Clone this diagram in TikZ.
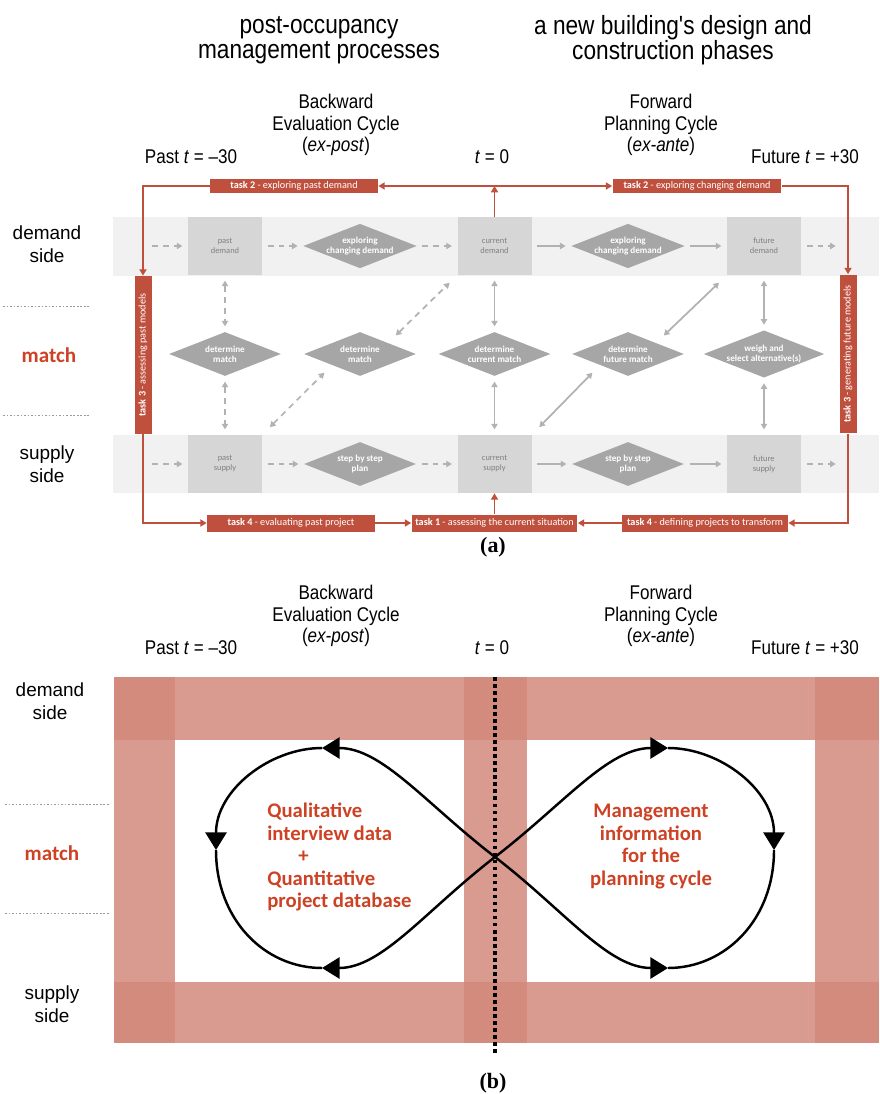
\documentclass[tikz,border=0pt]{standalone}
\usepackage{fontspec}
\setmainfont{Liberation Sans}
\newfontfamily\narrowsans[FakeStretch=0.86]{Liberation Sans}
\newfontfamily\carlito{Carlito}
\newfontfamily\timesfont{Liberation Serif}
\usetikzlibrary{arrows.meta, shapes.geometric}

\definecolor{taskred}{RGB}{192,80,62}
\definecolor{matchred}{RGB}{205,66,36}
\definecolor{laneback}{RGB}{241,241,241}
\definecolor{phasegray}{RGB}{214,214,214}
\definecolor{decgray}{RGB}{166,166,166}
\definecolor{linkgray}{RGB}{178,178,178}
\definecolor{gridred}{RGB}{210,136,122}

\tikzset{
  heading/.style = {font=\narrowsans\fontsize{15pt}{14.2pt}\selectfont, align=center},
  cyclehead/.style = {font=\narrowsans\fontsize{11.3pt}{12.4pt}\selectfont, align=center},
  sidelbl/.style = {font=\fontsize{10.8pt}{13pt}\selectfont, align=center},
  matchlbl/.style = {font=\carlito\bfseries\fontsize{12pt}{14pt}\selectfont, text=matchred},
  figtag/.style = {font=\timesfont\bfseries\fontsize{12.5pt}{14pt}\selectfont},
  phase/.style = {fill=phasegray, minimum width=1.48cm, minimum height=1.16cm, inner sep=0pt,
                  align=center, text=black!50, font=\carlito\fontsize{4.8pt}{5.7pt}\selectfont},
  decide/.style = {diamond, fill=decgray, shape aspect=2.55, minimum width=2.24cm, minimum height=0.88cm,
                   inner sep=0pt, align=center, text=white,
                   font=\carlito\bfseries\fontsize{5.2pt}{5.8pt}\selectfont},
  task/.style = {fill=taskred, text=white, minimum height=0.28cm, inner sep=0pt,
                 font=\carlito\fontsize{5.8pt}{6.5pt}\selectfont},
  flow/.style = {draw=taskred, line width=1pt, >={Triangle[length=3.6pt,width=4pt]}, ->},
  link/.style = {draw=linkgray, line width=1pt, shorten <=3pt, shorten >=3pt,
                 >={Triangle[length=3.2pt,width=3.6pt]}, ->},
  twoway/.style = {link, <->},
  hint/.style = {dash pattern=on 3.4pt off 2.8pt},
  lane/.style = {fill=laneback},
  band/.style = {fill=gridred, fill opacity=0.84},
  sepline/.style = {draw=black!40, dash pattern=on 1pt off 1pt, line width=0.4pt},
  eightline/.style = {line width=1.4pt},
  eightend/.style = {eightline, -{Triangle[length=10pt,width=12pt]}},
  loopnote/.style = {font=\carlito\bfseries\fontsize{11.8pt}{12.8pt}\selectfont, text=matchred, inner sep=0pt},
}

\begin{document}
\begin{tikzpicture}[x=0.02cm, y=-0.02cm]
\useasboundingbox (0,0) rectangle (879,1094);

\node[heading] (postocc) at (319,40) {post-occupancy\\management processes};
\node[heading] (newbuild) at (673,40) {a new building's design and\\construction phases};

% (a)
\node[cyclehead] (bwda) at (336,125) {Backward\\Evaluation Cycle\\(\textit{ex-post})};
\node[cyclehead] (fwda) at (661,125) {Forward\\Planning Cycle\\(\textit{ex-ante})};
\node[cyclehead] (pasta) at (191,157) {Past \textit{t} = –30};
\node[cyclehead] (nowa) at (492,157) {\textit{t} = 0};
\node[cyclehead] (futa) at (805,157) {Future \textit{t} = +30};

\fill[lane] (113,217) rectangle (879,276);
\fill[lane] (113,435) rectangle (879,493);

\node[sidelbl] (dsidea) at (47,244) {demand\\side};
\draw[sepline] (3,306) -- (90,306);
\node[matchlbl] (msidea) at (49,355) {match};
\draw[sepline] (3,415) -- (90,415);
\node[sidelbl] (ssidea) at (47,464) {supply\\side};

\node[phase] (pastdem) at (225,246) {past\\demand};
\node[phase] (curdem) at (494.5,246) {current\\demand};
\node[phase] (futdem) at (764,246) {future\\demand};
\node[phase] (pastsup) at (225,464) {past\\supply};
\node[phase] (cursup) at (494.5,464) {current\\supply};
\node[phase] (futsup) at (764,464) {future\\supply};

\node[decide] (expast) at (360,246) {exploring\\changing demand};
\node[decide] (exfut) at (628,246) {exploring\\changing demand};
\node[decide] (mpast) at (225,354) {determine\\match};
\node[decide] (mback) at (360,354) {determine\\match};
\node[decide] (mcur) at (494.5,354) {determine\\current match};
\node[decide] (mfut) at (628,354) {determine\\future match};
\node[decide] (mweigh) at (764,354) {weigh and\\select alternative(s)};
\node[decide] (planback) at (360,464) {step by step\\plan};
\node[decide] (planfwd) at (628,464) {step by step\\plan};

\coordinate (demin) at (147,246);
\coordinate (demout) at (841,246);
\coordinate (supin) at (147,464);
\coordinate (supout) at (841,464);

\draw[link, hint] (demin) -- (pastdem);
\draw[link, hint] (pastdem) -- (expast);
\draw[link, hint] (expast) -- (curdem);
\draw[link] (curdem) -- (exfut);
\draw[link] (exfut) -- (futdem);
\draw[link, hint] (futdem) -- (demout);
\draw[link, hint] (supin) -- (pastsup);
\draw[link, hint] (pastsup) -- (planback);
\draw[link, hint] (planback) -- (cursup);
\draw[link] (cursup) -- (planfwd);
\draw[link] (planfwd) -- (futsup);
\draw[link, hint] (futsup) -- (supout);

\draw[twoway, hint] (pastdem) -- (mpast);
\draw[twoway, hint] (mpast) -- (pastsup);
\draw[twoway] (curdem) -- (mcur);
\draw[twoway] (mcur) -- (cursup);
\draw[twoway] (futdem) -- (mweigh);
\draw[twoway] (mweigh) -- (futsup);
\draw[twoway, hint, shorten <=6pt, shorten >=6pt] (mback.north east) -- (curdem.south west);
\draw[twoway, hint, shorten <=6pt, shorten >=6pt] (pastsup.north east) -- (mback.south west);
\draw[twoway, shorten <=6pt, shorten >=6pt] (mfut.north east) -- (futdem.south west);
\draw[twoway, shorten <=6pt, shorten >=6pt] (cursup.north east) -- (mfut.south west);

\node[task, minimum width=3.36cm] (t2past) at (294,186) {\textbf{task 2} - exploring past demand};
\node[task, minimum width=3.38cm] (t2fut) at (697,186) {\textbf{task 2} - exploring changing demand};
\node[task, rotate=90, minimum width=3.16cm, minimum height=0.34cm] (t3past) at (143,355) {\textbf{task 3} - assessing past models};
\node[task, rotate=90, minimum width=3.18cm, minimum height=0.34cm] (t3fut) at (848,354) {\textbf{task 3} - generating future models};
\node[task, minimum width=3.36cm, minimum height=0.34cm] (t4past) at (291,523) {\textbf{task 4} - evaluating past project};
\node[task, minimum width=3.32cm, minimum height=0.34cm] (t1) at (494.5,523) {\textbf{task 1} - assessing the current situation};
\node[task, minimum width=3.32cm, minimum height=0.34cm] (t4fut) at (705,523) {\textbf{task 4} - defining projects to transform};

\coordinate (tnow) at (494.5,186);
\draw[flow] (curdem) -- (tnow);
\draw[flow] (tnow) -- (t2past);
\draw[flow] (tnow) -- (t2fut);
\draw[flow] (t2past) -| (t3past.east);
\draw[flow] (t2fut) -| (t3fut.east);
\draw[flow] (t3past.west) |- (t4past);
\draw[flow] (t4past) -- (t1);
\draw[flow] (t3fut.west) |- (t4fut);
\draw[flow] (t4fut) -- (t1);
\draw[flow] (t1) -- (cursup);

\node[figtag] (capa) at (493,547) {(a)};

% (b)
\node[cyclehead] (bwdb) at (336,616) {Backward\\Evaluation Cycle\\(\textit{ex-post})};
\node[cyclehead] (fwdb) at (661,616) {Forward\\Planning Cycle\\(\textit{ex-ante})};
\node[cyclehead] (pastb) at (191,648) {Past \textit{t} = –30};
\node[cyclehead] (nowb) at (492,648) {\textit{t} = 0};
\node[cyclehead] (futb) at (805,648) {Future \textit{t} = +30};

\fill[band] (114,677) rectangle (879,740);
\fill[band] (114,982) rectangle (879,1043);
\fill[band] (114,677) rectangle (175,1043);
\fill[band] (464,677) rectangle (527,1043);
\fill[band] (815,677) rectangle (879,1043);

\node[sidelbl] (dsideb) at (50,701) {demand\\side};
\draw[sepline] (5,804) -- (110,804);
\node[matchlbl] (msideb) at (52,853) {match};
\draw[sepline] (5,913) -- (110,913);
\node[sidelbl] (ssideb) at (52,1004) {supply\\side};

\draw[line width=2pt, dash pattern=on 2pt off 2pt] (495,677) -- (495,1055);

\coordinate (cross) at (495,857);
\coordinate (ltop) at (322,748);
\coordinate (lside) at (216,850);
\coordinate (lbot) at (322,968);
\coordinate (rtop) at (668,748);
\coordinate (rside) at (774,850);
\coordinate (rbot) at (668,968);

\draw[eightend] (cross) .. controls (425,803) and (382,748) .. (ltop);
\draw[eightend] (ltop) .. controls (270,748) and (216,790) .. (lside);
\draw[eightline] (lside) .. controls (216,920) and (265,968) .. (lbot);
\draw[eightend] (cross) .. controls (425,911) and (382,968) .. (lbot);
\draw[eightend] (cross) .. controls (565,803) and (608,748) .. (rtop);
\draw[eightend] (rtop) .. controls (720,748) and (774,790) .. (rside);
\draw[eightline] (rside) .. controls (774,920) and (725,968) .. (rbot);
\draw[eightend] (cross) .. controls (565,911) and (608,968) .. (rbot);

\node[loopnote, anchor=north west, align=left] (qualnote) at (267,803) {Qualitative\\interview data\\\hspace*{0.62cm}+\\Quantitative\\project database};
\node[loopnote, anchor=north, align=center] (mgmtnote) at (651,804) {Management\\information\\for the\\planning cycle};

\node[figtag] (capb) at (493,1083) {(b)};
\end{tikzpicture}
\end{document}
